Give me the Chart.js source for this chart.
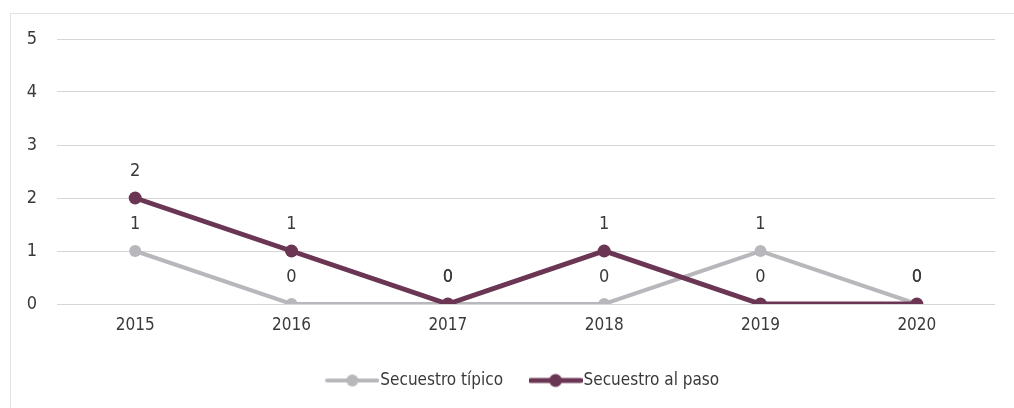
<!DOCTYPE html>
<html><head><meta charset="utf-8">
<script src="https://cdn.jsdelivr.net/npm/chart.js@4"></script>
<style>
html,body{margin:0;padding:0;background:#fff;}
#wrap{position:relative;width:1014px;height:408px;}
#frame{position:absolute;left:10px;top:13px;right:0;bottom:0;border-left:1px solid #e2e2e2;border-top:1px solid #e2e2e2;}
canvas{position:absolute;left:0;top:0;}
</style></head>
<body><div id="wrap"><div id="frame"></div><canvas id="c" width="1014" height="408"></canvas></div>
<script>
const years = ['2015','2016','2017','2018','2019','2020'];
const secuestroTipico = [1,0,0,0,1,0];
const secuestroAlPaso = [2,1,0,1,0,0];
const yTicks = [0,1,2,3,4,5];

const FONT = "'Liberation Sans Narrow','DejaVu Sans Condensed','Roboto',sans-serif";
const GRAY = '#b8b8bc', PURPLE = '#6a3654', TXT = '#3a3a3a';

function legendIcon(color, lw, r){
  const c = document.createElement('canvas'); c.width = 54; c.height = 16;
  const x = c.getContext('2d');
  x.strokeStyle = color; x.lineWidth = lw; x.lineCap='round';
  x.beginPath(); x.moveTo(2,8); x.lineTo(52,8); x.stroke();
  x.fillStyle = color; x.beginPath(); x.arc(27,8,r,0,Math.PI*2); x.fill();
  return c;
}

const labelPlugin = {
  id:'vals',
  afterDatasetsDraw(chart){
    const ctx = chart.ctx; ctx.save();
    ctx.font = '18px ' + FONT; ctx.fillStyle = TXT; ctx.textAlign='center'; ctx.textBaseline='middle';
    chart.data.datasets.forEach((ds,i)=>{
      const meta = chart.getDatasetMeta(i);
      meta.data.forEach((pt,j)=>{ ctx.fillText(String(ds.data[j]), pt.x, pt.y-27); });
    });
    ctx.restore();
  }
};

new Chart(document.getElementById('c'), {
  type:'line',
  data:{labels:years, datasets:[
    {label:'Secuestro típico', data:secuestroTipico, borderColor:GRAY, backgroundColor:GRAY, borderWidth:4, pointRadius:6, pointBackgroundColor:GRAY, pointBorderWidth:0, order:2, legendIcon:legendIcon(GRAY,4,6)},
    {label:'Secuestro al paso', data:secuestroAlPaso, borderColor:PURPLE, backgroundColor:PURPLE, borderWidth:5, pointRadius:6.5, pointBackgroundColor:PURPLE, pointBorderWidth:0, order:1, legendIcon:legendIcon(PURPLE,5,6.5)}
  ]},
  options:{
    responsive:false, animation:false,
    layout:{padding:{left:0,right:19,top:39,bottom:9}},
    scales:{
      x:{offset:true, grid:{display:false,drawTicks:false}, border:{display:false},
         ticks:{font:{family:FONT,size:17}, color:TXT, padding:11},
         afterFit(s){s.height=35;}},
      y:{min:0,max:5, grid:{color:'#d6d6d6',drawTicks:false,lineWidth:1}, border:{display:false},
         afterBuildTicks(s){s.ticks = yTicks.map(v=>({value:v}));},
         ticks:{font:{family:FONT,size:18}, color:TXT, padding:20},
         afterFit(s){s.width=57;}}
    },
    plugins:{
      tooltip:{enabled:false},
      legend:{position:'bottom', fullSize:false, labels:{
        usePointStyle:true, pointStyleWidth:39, padding:33, font:{family:FONT,size:17}, color:TXT,
        sort:(a,b)=>a.datasetIndex-b.datasetIndex,
        generateLabels(chart){
          return chart.data.datasets.map((ds,i)=>({text:ds.label, datasetIndex:i, pointStyle:ds.legendIcon, fillStyle:ds.borderColor, strokeStyle:ds.borderColor, lineWidth:0, fontColor:TXT, hidden:false}));
        }
      }}
    }
  },
  plugins:[labelPlugin]
});
</script></body></html>
